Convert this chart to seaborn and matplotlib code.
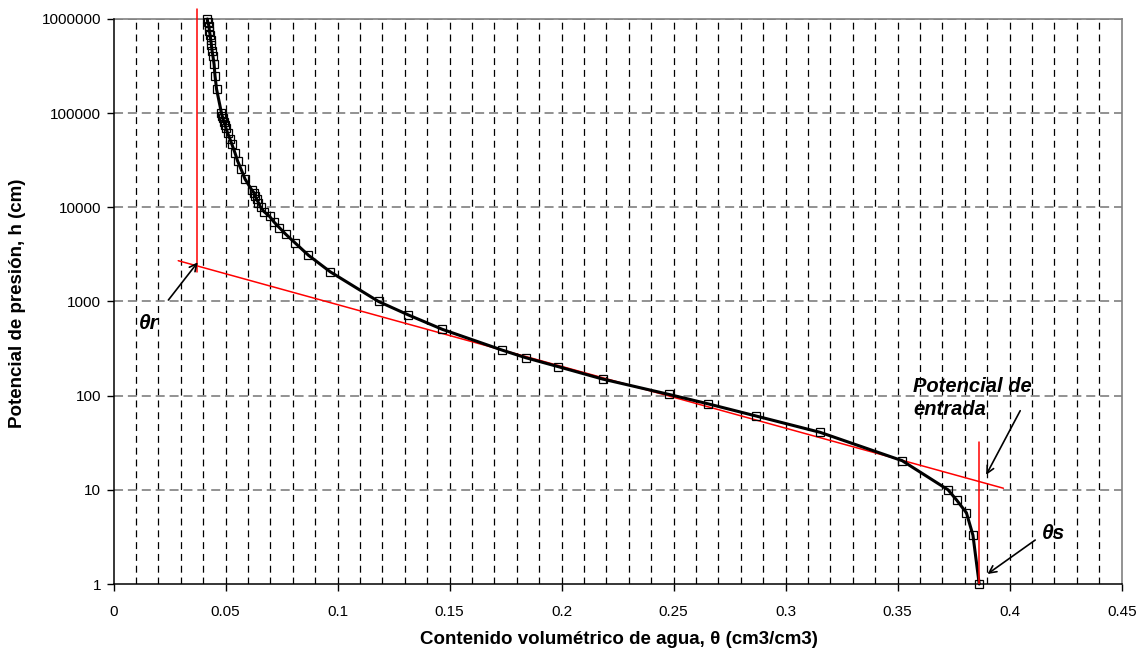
import numpy as np
import pandas as pd
import matplotlib
matplotlib.use("Agg")
import matplotlib.pyplot as plt
import seaborn as sns

# ---- data ----
theta = [0.0419, 0.0420, 0.0426, 0.0428, 0.0431, 0.0434, 0.0437, 0.0440, 0.0444, 0.0449,
         0.0453, 0.0460, 0.0482, 0.0485, 0.0488, 0.0493, 0.0498, 0.0502, 0.0510, 0.0520,
         0.0528, 0.0542, 0.0554, 0.0569, 0.0587, 0.0617, 0.0627, 0.0632, 0.0639, 0.0647,
         0.0657, 0.0672, 0.0697, 0.0716, 0.0740, 0.0768, 0.0810, 0.0870, 0.0967, 0.1183,
         0.1316, 0.1468, 0.1734, 0.1840, 0.1986, 0.2184, 0.2480, 0.2653, 0.2866, 0.3154,
         0.3520, 0.3725, 0.3763, 0.3807, 0.3836, 0.3864]
h = [1.0e6, 9.4e5, 8.4e5, 7.5e5, 6.8e5, 6.0e5, 5.3e5, 4.6e5, 4.0e5, 3.3e5,
     2.5e5, 1.8e5, 1.0e5, 9.4e4, 8.8e4, 8.1e4, 7.5e4, 6.9e4, 6.1e4, 5.3e4,
     4.7e4, 3.8e4, 3.1e4, 2.55e4, 2.0e4, 1.53e4, 1.43e4, 1.32e4, 1.22e4, 1.12e4,
     1.0e4, 9.0e3, 8.0e3, 7.0e3, 6.1e3, 5.2e3, 4.2e3, 3.1e3, 2.07e3, 1.0e3,
     720, 506, 305, 253, 203, 150, 103, 82, 61, 40.8,
     20.4, 10, 7.8, 5.7, 3.3, 1.0]

# red construction lines
tangent_theta = [0.0289, 0.3972]
tangent_h = [2712, 10.4]
theta_r_x = [0.0374, 0.0374]
theta_r_h = [1.27e6, 2075]
theta_s_x = [0.3862, 0.3862]
theta_s_h = [32.6, 1.0]

x_ticks = [0, 0.05, 0.1, 0.15, 0.2, 0.25, 0.3, 0.35, 0.4, 0.45]
x_tick_labels = ["0", "0.05", "0.1", "0.15", "0.2", "0.25", "0.3", "0.35", "0.4", "0.45"]
y_ticks = [1, 10, 100, 1000, 10000, 100000, 1000000]
y_tick_labels = ["1", "10", "100", "1000", "10000", "100000", "1000000"]

# ---- style ----
sns.set_style("white")
plt.rcParams["font.family"] = ["Liberation Sans", "DejaVu Sans"]
plt.rcParams["lines.scale_dashes"] = False
plt.rcParams["text.color"] = "black"
plt.rcParams["axes.labelcolor"] = "black"
plt.rcParams["xtick.color"] = "black"
plt.rcParams["ytick.color"] = "black"

fig = plt.figure(figsize=(11.46, 6.51), dpi=100)
ax_w = (1121.7 - 113.5)
ax_h = (584 - 19)
ax = fig.add_axes([113.5 / 1146, 1 - 584 / 651, ax_w / 1146, ax_h / 651])
ax.set_yscale("log")
ax.set_xlim(0, 0.45)
ax.set_ylim(1, 1e6)

# grid: vertical every 0.01 black dashed, horizontal decades gray dashed
for xv in np.arange(1, 45) / 100.0:
    ax.axvline(xv, color="black", lw=0.9, linestyle=(0, (5, 3.5)), zorder=1)
for yv in y_ticks[1:]:
    ax.axhline(yv, color="#7f7f7f", lw=1.2, linestyle=(0, (6.5, 3.5)), zorder=1)

df = pd.DataFrame({"theta": theta, "h": h})
sns.lineplot(data=df, x="theta", y="h", ax=ax, sort=False, estimator=None,
             color="black", lw=2.2, zorder=4, clip_on=False)
sns.lineplot(data=df, x="theta", y="h", ax=ax, sort=False, estimator=None,
             color="black", lw=0, marker="s", markersize=5.2,
             markerfacecolor="none", markeredgecolor="black", markeredgewidth=0.9,
             zorder=5, clip_on=False)

red = "#ff0000"
sns.lineplot(x=tangent_theta, y=tangent_h, ax=ax, color=red, lw=1.1, zorder=3, sort=False, estimator=None)
sns.lineplot(x=theta_r_x, y=theta_r_h, ax=ax, color=red, lw=1.1, zorder=3, sort=False,
             estimator=None, clip_on=False)
sns.lineplot(x=theta_s_x, y=theta_s_h, ax=ax, color=red, lw=1.1, zorder=6, sort=False, estimator=None)

# spines
for s in ["left", "bottom"]:
    ax.spines[s].set_color("black")
    ax.spines[s].set_linewidth(1.1)
for s in ["top", "right"]:
    ax.spines[s].set_color("#808080")
    ax.spines[s].set_linewidth(1.2)
    ax.spines[s].set_zorder(2)

ax.set_xticks(x_ticks)
ax.set_xticklabels(x_tick_labels)
ax.set_yticks(y_ticks)
ax.set_yticklabels(y_tick_labels)
ax.minorticks_off()
ax.tick_params(axis="both", which="major", direction="out", length=5, width=1,
               color="black", labelsize=11, labelcolor="black", pad=4,
               bottom=True, left=True)
ax.tick_params(axis="x", pad=10)

ax.set_xlabel("Contenido volumétrico de agua, θ (cm3/cm3)", fontsize=13.5,
              fontweight="bold", color="black")
ax.set_ylabel("Potencial de presión, h (cm)", fontsize=13.5, fontweight="bold",
              color="black")
ax.xaxis.label.set_va("center")
ax.yaxis.label.set_va("center")
ax.xaxis.set_label_coords((619 - 113.5) / ax_w, (584 - 640) / ax_h)
ax.yaxis.set_label_coords((18 - 113.5) / ax_w, (584 - 303) / ax_h)
if ax.legend_:
    ax.legend_.remove()

# annotations
arrow = dict(arrowstyle="->", color="black", lw=1.2, shrinkA=0, shrinkB=0,
             mutation_scale=13)
ax.annotate("", xy=(0.0376, 2608), xytext=(0.0245, 1037), arrowprops=arrow, zorder=7)
ax.text(0.0156, 591, "θr", fontsize=15, fontweight="bold", fontstyle="italic",
        ha="center", va="center", color="black")

ax.text(0.357, 94.4, "Potencial de\nentrada", fontsize=14.5, fontweight="bold",
        fontstyle="italic", ha="left", va="center", linespacing=1.3, color="black")
ax.annotate("", xy=(0.3895, 14.4), xytext=(0.4047, 69.2), arrowprops=arrow, zorder=7)

ax.text(0.4196, 3.45, "θs", fontsize=15, fontweight="bold", fontstyle="italic",
        ha="center", va="center", color="black")
ax.annotate("", xy=(0.3901, 1.277), xytext=(0.4114, 2.93), arrowprops=arrow, zorder=7)

fig.savefig("out.png", dpi=100)
